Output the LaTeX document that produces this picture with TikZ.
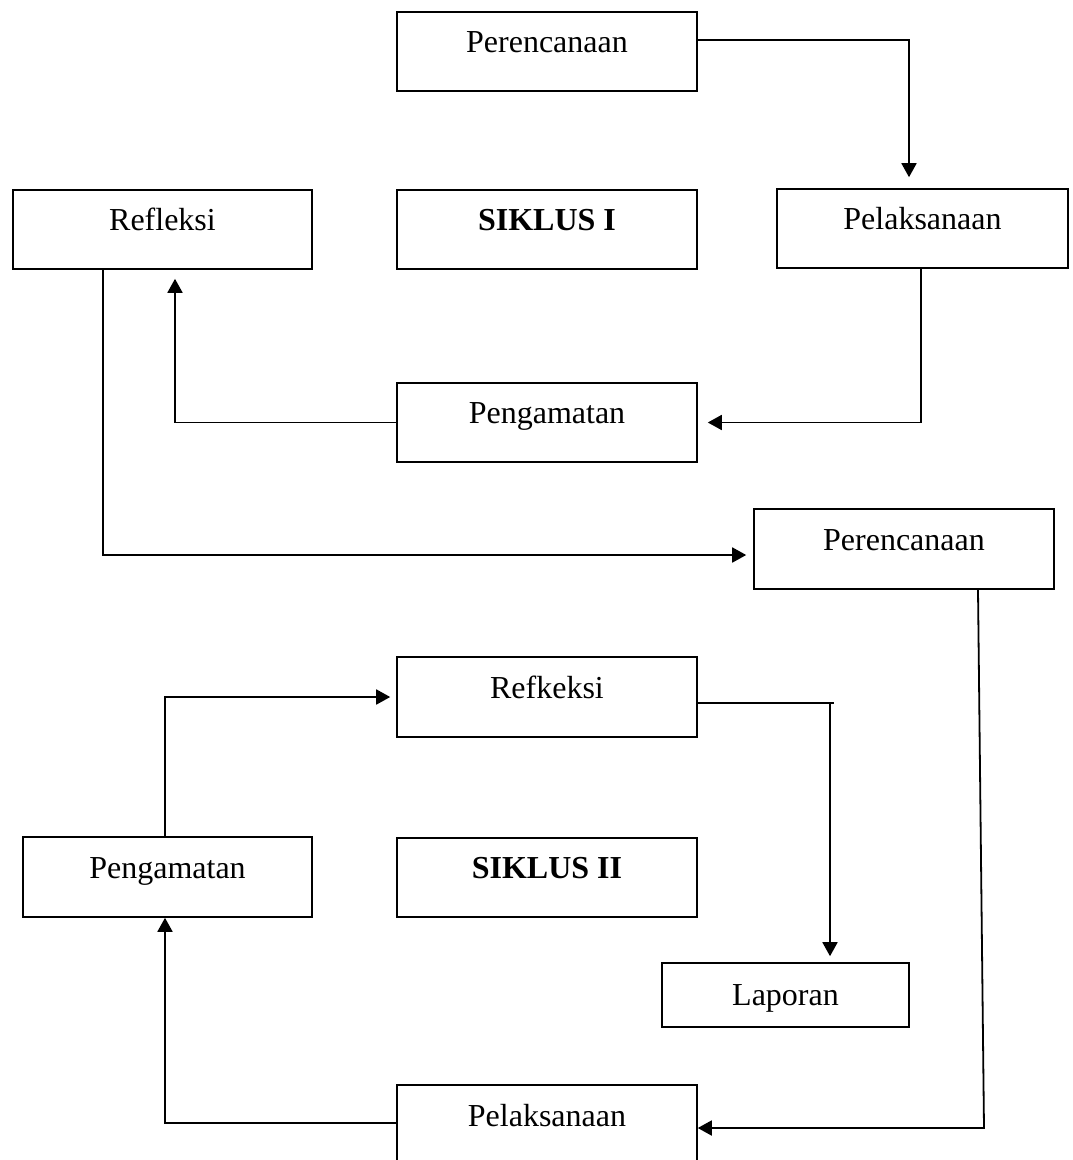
\documentclass[tikz,border=0pt]{standalone}
\usepackage{fontspec}
\setmainfont{Liberation Serif}
\usetikzlibrary{arrows.meta}
\begin{document}
\begin{tikzpicture}[x=1pt,y=-1pt,
  box/.style={draw,line width=1.6pt,inner sep=0pt,minimum width=300pt,minimum height=80pt,
    font=\fontsize{32}{38}\selectfont,text height=20pt,text depth=18pt,align=center},
  arr/.style={line width=1.8pt,-{Triangle[width=15pt,length=14pt]}},
  ln/.style={line width=1.8pt}]
\useasboundingbox (0,0) rectangle (1072,1160);
\node[box,minimum height=79pt] (b1) at (547,51.5) {Perencanaan};
\node[box,minimum width=299pt,minimum height=79pt] (b2) at (162.5,229.5) {Refleksi};
\node[box,minimum height=79pt] (b3) at (547,229.5) {\textbf{SIKLUS I}};
\node[box,minimum width=291pt,minimum height=79pt] (b4) at (922.5,228.5) {Pelaksanaan};
\node[box,minimum height=79pt] (b5) at (547,422.5) {Pengamatan};
\node[box] (b6) at (904,549) {Perencanaan};
\node[box] (b7) at (547,697) {Refkeksi};
\node[box,minimum width=289pt] (b8) at (167.5,877) {Pengamatan};
\node[box,minimum height=79pt] (b9) at (547,877.5) {\textbf{SIKLUS II}};
\node[box,minimum width=247pt,minimum height=64pt,text depth=0pt] (b10) at (785.5,995) {Laporan};
\node[box] (b11) at (547,1125) {Pelaksanaan};
% connectors
\draw[arr,shorten >=11pt] ([yshift=11.5pt]b1.east) -| ([xshift=-13.5pt]b4.north);
\draw[arr,shorten >=10pt] ([xshift=-1.5pt]b4.south) |- (b5.east);
\draw[arr,shorten >=9pt] (b5.west) -| ([xshift=12.5pt]b2.south);
\draw[arr,shorten >=7pt] ([xshift=-59.5pt]b2.south) |- ([yshift=-6pt]b6.west);
\coordinate (k5) at (984,1128);
\draw[arr] ([xshift=74pt]b6.south) -- (k5) -- ([yshift=-3pt]b11.east);
\draw[arr] ([yshift=2pt]b11.west) -| ([xshift=-2.5pt]b8.south);
\draw[arr,shorten >=6pt] ([xshift=-2.5pt]b8.north) |- (b7.west);
\coordinate (k8) at (834,703);
\draw[ln] ([yshift=-6pt]b7.east) -- (k8);
\draw[arr,shorten >=6pt] ([xshift=-4pt]k8) -- ([xshift=44.5pt]b10.north);
\end{tikzpicture}
\end{document}
